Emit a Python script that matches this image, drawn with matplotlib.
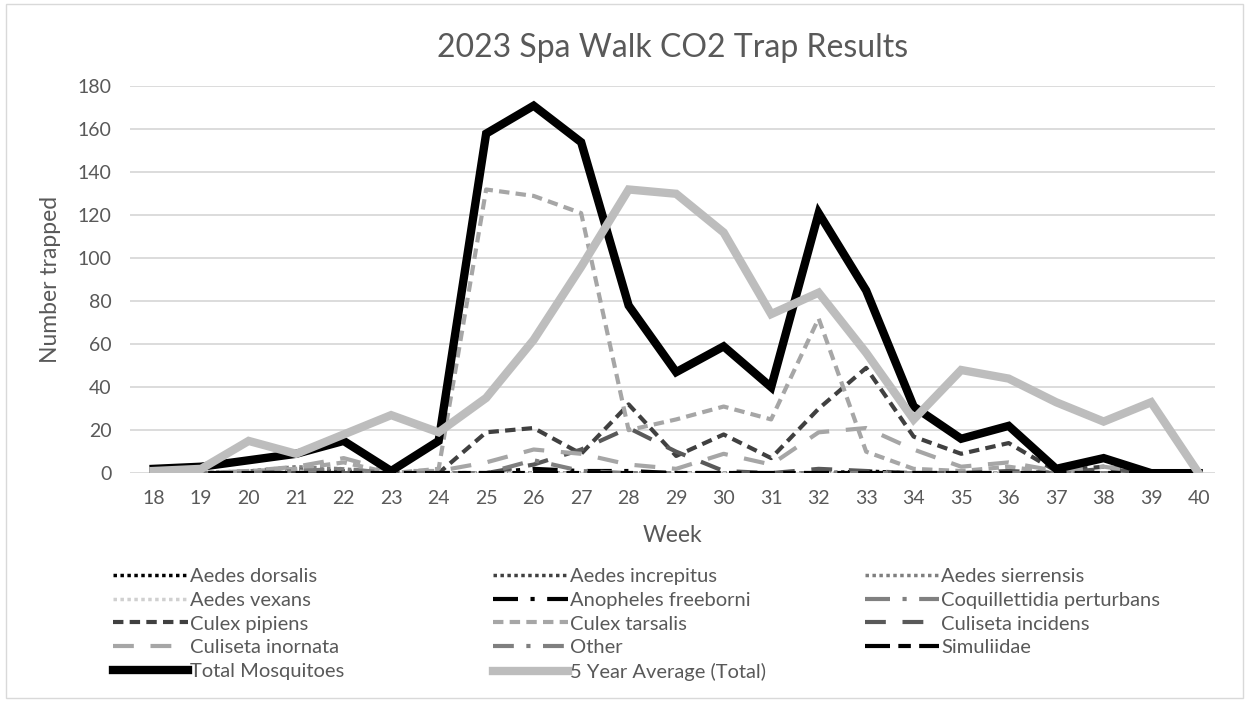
import matplotlib.pyplot as plt
from matplotlib.patches import Rectangle

# data
weeks = list(range(18, 41))

aedes_dorsalis = [0, 0, 0, 1, 1, 0, 0, 0, 0, 0, 0, 0, 0, 0, 0, 1, 0, 0, 0, 0, 0, 0, 0]
aedes_increpitus = [0, 0, 1, 2, 1, 0, 0, 0, 0, 0, 0, 0, 0, 0, 0, 0, 0, 0, 0, 0, 0, 0, 0]
aedes_sierrensis = [0, 0, 1, 3, 2, 0, 0, 0, 0, 0, 0, 0, 0, 0, 0, 0, 0, 0, 0, 0, 0, 0, 0]
aedes_vexans = [0, 0, 0, 1, 0, 0, 0, 0, 0, 0, 0, 0, 0, 0, 0, 0, 0, 0, 0, 0, 0, 0, 0]
anopheles_freeborni = [0, 0, 0, 0, 0, 0, 0, 0, 2, 1, 1, 0, 0, 0, 0, 0, 0, 0, 0, 0, 0, 0, 0]
coquillettidia = [0, 0, 0, 0, 0, 0, 0, 0, 0, 0, 0, 0, 0, 0, 0, 0, 0, 0, 0, 0, 0, 0, 0]
culex_pipiens = [0, 0, 0, 0, 0, 0, 0, 19, 21, 9, 32, 8, 18, 7, 30, 49, 17, 9, 14, 1, 3, 0, 0]
culex_tarsalis = [0, 0, 1, 2, 5, 0, 2, 132, 129, 121, 20, 25, 31, 25, 72, 10, 2, 1, 3, 0, 0, 0, 0]
culiseta_incidens = [0, 0, 0, 0, 0, 0, 0, 0, 4, 11, 21, 10, 1, 0, 2, 1, 0, 0, 1, 0, 2, 0, 0]
culiseta_inornata = [0, 0, 1, 3, 7, 1, 1, 5, 11, 9, 4, 2, 9, 4, 19, 21, 11, 3, 5, 1, 3, 0, 0]
other = [0, 0, 0, 1, 2, 0, 0, 0, 6, 1, 0, 0, 0, 0, 0, 0, 0, 0, 0, 0, 0, 0, 0]
simuliidae = [0, 0, 0, 0, 0, 0, 0, 0, 0, 0, 0, 0, 0, 0, 0, 0, 0, 0, 0, 0, 0, 0, 0]
total = [2, 3, 6, 9, 15, 1, 15, 158, 171, 154, 78, 47, 59, 40, 121, 85, 31, 16, 22, 2, 7, 0, 0]
five_year_avg = [1, 2, 15, 9, 18, 27, 19, 35, 62, 96, 132, 130, 112, 74, 84, 56, 25, 48, 44, 33, 24, 33, 0]

text_color = '#595959'
plt.rcParams['font.family'] = ['Lato', 'DejaVu Sans']

fig = plt.figure(figsize=(12.49, 7.02), dpi=100)
ax = fig.add_axes([0.104, 0.326, 0.869, 0.551])

series = [
    ('Aedes dorsalis', aedes_dorsalis, '#000000', (0, (1, 1)), 2.5),
    ('Aedes increpitus', aedes_increpitus, '#404040', (0, (1, 1)), 2.5),
    ('Aedes sierrensis', aedes_sierrensis, '#7f7f7f', (0, (1, 1)), 2.5),
    ('Aedes vexans', aedes_vexans, '#d0d0d0', (0, (1, 1)), 2.5),
    ('Anopheles freeborni', anopheles_freeborni, '#000000', (0, (6, 3, 1, 3)), 3),
    ('Coquillettidia perturbans', coquillettidia, '#808080', (0, (6, 3, 1, 3)), 3),
    ('Culex pipiens', culex_pipiens, '#404040', (0, (2.5, 1.5)), 3),
    ('Culex tarsalis', culex_tarsalis, '#a6a6a6', (0, (2.5, 1.5)), 3),
    ('Culiseta incidens', culiseta_incidens, '#595959', (0, (5, 4)), 3),
    ('Culiseta inornata', culiseta_inornata, '#a6a6a6', (0, (5, 4)), 3),
    ('Other', other, '#7f7f7f', (0, (5, 3, 1, 3)), 3),
    ('Simuliidae', simuliidae, '#000000', (0, (6, 2, 3, 2)), 3),
]

for name, vals, col, ls, lw in series:
    ax.plot(weeks, vals, color=col, linestyle=ls, linewidth=lw, label=name)

ax.plot(weeks, total, color='#000000', linewidth=6, label='Total Mosquitoes',
        solid_joinstyle='miter')
ax.plot(weeks, five_year_avg, color='#bdbdbd', linewidth=6, label='5 Year Average (Total)',
        solid_joinstyle='miter')

ax.set_xlim(17.5, 40.35)
ax.set_ylim(0, 180)
ax.set_yticks(range(0, 181, 20))
ax.set_xticks(weeks)
ax.grid(axis='y', color='#d9d9d9', linewidth=1.3)
ax.set_axisbelow(True)
for s in ax.spines.values():
    s.set_visible(False)
ax.tick_params(length=0, colors=text_color, labelsize=14, pad=12)
ax.tick_params(axis='y', pad=13)

ax.set_title('2023 Spa Walk CO2 Trap Results', fontsize=23, color=text_color, pad=21)
ax.set_xlabel('Week', fontsize=16.5, color=text_color, labelpad=13)
ax.set_ylabel('Number trapped', fontsize=16.5, color=text_color, labelpad=12)

# three legend columns, filled row by row like the original
handles, labels = ax.get_legend_handles_labels()
col_x = [0.0905, 0.395, 0.6925]
for c, x in enumerate(col_x):
    hs = handles[c::3]
    ls_ = labels[c::3]
    leg = fig.legend(hs, ls_, loc='upper left', bbox_to_anchor=(x, 0.191),
                     frameon=False, fontsize=14.5, handlelength=3.7,
                     handletextpad=0.1, labelspacing=0.33, borderpad=0,
                     borderaxespad=0, labelcolor=text_color)

fig.patches.append(Rectangle((0.005, 0.005), 0.99, 0.99, transform=fig.transFigure,
                             fill=False, edgecolor='#d9d9d9', linewidth=1))

fig.savefig('out.png', dpi=100)
